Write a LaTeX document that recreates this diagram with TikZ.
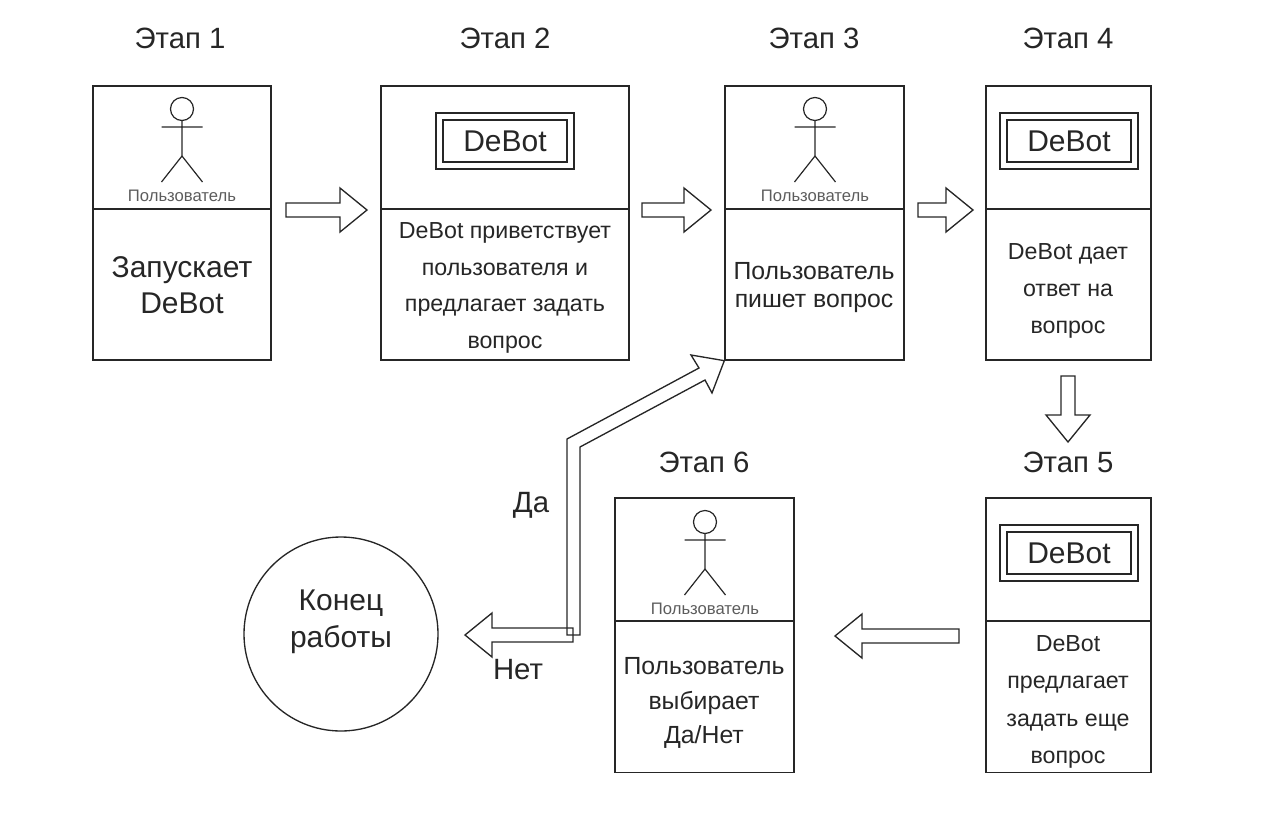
\documentclass[tikz,border=0pt]{standalone}
\usepackage{fontspec}
\setmainfont{Liberation Sans}
\usetikzlibrary{calc}
\definecolor{ink}{HTML}{262626}
\newcommand{\pxfont}[2]{\fontsize{#1}{#2}\selectfont}
\tikzset{
  cell/.style={draw=ink,line width=1pt,rectangle,inner sep=0pt,fill=none},
  heading/.style={text=ink,font=\pxfont{22pt}{24pt},inner sep=0pt},
  bigtext/.style={text=ink,font=\pxfont{22.5pt}{27pt},align=center,inner sep=0pt},
  midtext/.style={text=ink,font=\pxfont{17.4pt}{27.5pt},align=center,inner sep=0pt},
  lowtext/.style={text=ink,font=\pxfont{17.4pt}{28pt},align=center,inner sep=0pt},
  boxtext/.style={text=ink,font=\pxfont{18.6pt}{21.5pt},align=center,inner sep=0pt},
  actorpic/.pic={
    \draw[draw=ink,line width=.9pt] (0,0) circle[radius=11.5];
    \draw[draw=ink,line width=.9pt] (0,11.5) -- (0,47) (-20.5,18) -- (20.5,18) (-20.5,73) -- (0,47) -- (20.5,73);
    \node[text=ink!75,font=\pxfont{12.5pt}{14pt},inner sep=0pt] (-label) at (0,86.5) {Пользователь};
  },
  blockarrow/.style={draw=ink,line width=1pt,line join=miter,to path={
    ($(\tikztostart)!5.25pt!90:(\tikztotarget)$) --
    ($(\tikztotarget)!20.25pt!(\tikztostart)!5.25pt!90:(\tikztotarget)$) --
    ($(\tikztotarget)!20.25pt!(\tikztostart)!16.5pt!90:(\tikztotarget)$) --
    (\tikztotarget) --
    ($(\tikztotarget)!20.25pt!(\tikztostart)!16.5pt!-90:(\tikztotarget)$) --
    ($(\tikztotarget)!20.25pt!(\tikztostart)!5.25pt!-90:(\tikztotarget)$) --
    ($(\tikztostart)!5.25pt!-90:(\tikztotarget)$) -- cycle}},
  debotouter/.style={cell,line width=.9pt,minimum width=103.5pt,minimum height=42pt},
  debotinner/.style={cell,line width=.9pt,minimum width=93pt,minimum height=31.5pt,
    font=\pxfont{22.5pt}{24pt},text=ink},
}
\begin{document}
\begin{tikzpicture}[x=0.75pt,y=-0.75pt]
\useasboundingbox (0,0) rectangle (1279,822);
% headings
\node[heading] (h1) at (180,38) {Этап 1};
\node[heading] (h2) at (505,38) {Этап 2};
\node[heading] (h3) at (814,38) {Этап 3};
\node[heading] (h4) at (1068,38) {Этап 4};
\node[heading] (h5) at (1068,462) {Этап 5};
\node[heading] (h6) at (704,462) {Этап 6};
% boxes: upper and lower cells
\node[cell,minimum width=133.5pt,minimum height=92.25pt] (b1t) at (182,147.5) {};
\node[cell,minimum width=133.5pt,minimum height=113.25pt] (b1b) at (182,284.5) {};
\node[cell,minimum width=186pt,minimum height=92.25pt] (b2t) at (505,147.5) {};
\node[cell,minimum width=186pt,minimum height=113.25pt] (b2b) at (505,284.5) {};
\node[cell,minimum width=134.25pt,minimum height=92.25pt] (b3t) at (814.5,147.5) {};
\node[cell,minimum width=134.25pt,minimum height=113.25pt] (b3b) at (814.5,284.5) {};
\node[cell,minimum width=123.75pt,minimum height=92.25pt] (b4t) at (1068.5,147.5) {};
\node[cell,minimum width=123.75pt,minimum height=113.25pt] (b4b) at (1068.5,284.5) {};
\node[cell,minimum width=123.75pt,minimum height=92.25pt] (b5t) at (1068.5,559.5) {};
\node[cell,minimum width=123.75pt,minimum height=113.25pt] (b5b) at (1068.5,697) {};
\node[cell,minimum width=134.25pt,minimum height=92.25pt] (b6t) at (704.5,559.5) {};
\node[cell,minimum width=134.25pt,minimum height=113.25pt] (b6b) at (704.5,697) {};
% actors
\pic (a1) at (182,109) {actorpic};
\pic (a3) at (815,109) {actorpic};
\pic (a6) at (705,522) {actorpic};
% DeBot marks
\node[debotouter] (d2o) at (505,141) {};
\node[debotinner] (d2i) at (505,141) {DeBot};
\node[debotouter] (d4o) at (1069,141) {};
\node[debotinner] (d4i) at (1069,141) {DeBot};
\node[debotouter] (d5o) at (1069,553) {};
\node[debotinner] (d5i) at (1069,553) {DeBot};
% cell texts
\node[bigtext] (t1) at (182,285) {Запускает\\DeBot};
\node[midtext] (t2) at (505,288) {DeBot приветствует\\пользователя и\\предлагает задать\\вопрос};
\node[boxtext,font=\pxfont{18.6pt}{21pt}] (t3) at (814,288) {Пользователь\\пишет вопрос};
\node[lowtext] (t4) at (1068,291) {DeBot дает\\ответ на\\вопрос};
\node[lowtext] (t5) at (1068,702) {DeBot\\предлагает\\задать еще\\вопрос};
\node[boxtext,font=\pxfont{18.6pt}{26pt}] (t6) at (704,703) {Пользователь\\выбирает\\Да/Нет};
% end
\node[draw=ink,line width=1pt,circle,minimum size=145.5pt,inner sep=0pt] (end) at (341,634) {};
\node[text=ink,align=center,inner sep=0pt,font=\pxfont{22.5pt}{27.5pt}] (endtext) at (341,622) {Конец\\работы};
\node[text=ink,font=\pxfont{22pt}{24pt},inner sep=0pt] (yes) at (531,505) {Да};
\node[text=ink,font=\pxfont{22pt}{24pt},inner sep=0pt] (no) at (518,670) {Нет};
% connector ends
\coordinate (a12s) at (286,210); \coordinate (a12e) at (367,210);
\coordinate (a23s) at (642,210); \coordinate (a23e) at (711,210);
\coordinate (a34s) at (918,210); \coordinate (a34e) at (973,210);
\coordinate (a45s) at (1068,376); \coordinate (a45e) at (1068,442);
\coordinate (a56s) at (959,636); \coordinate (a56e) at (835,636);
\coordinate (a6es) at (573,635); \coordinate (a6ee) at (465,635);
\draw[blockarrow] (a12s) to (a12e);
\draw[blockarrow] (a23s) to (a23e);
\draw[blockarrow] (a34s) to (a34e);
\draw[blockarrow] (a45s) to (a45e);
\draw[blockarrow] (a56s) to (a56e);
\draw[blockarrow] (a6es) to (a6ee);
% bent arrow back to stage 3
\coordinate (y0) at (567,635); \coordinate (y1) at (567,439);
\coordinate (y2) at (699,368); \coordinate (y3) at (691,355);
\coordinate (y4) at (b3b.south west); \coordinate (y5) at (712,393);
\coordinate (y6) at (705,380); \coordinate (y7) at (580,447);
\coordinate (y8) at (580,635);
\draw[draw=ink,line width=1pt,line join=miter] (y0) -- (y1) -- (y2) -- (y3) -- (y4) -- (y5) -- (y6) -- (y7) -- (y8) -- cycle;
\end{tikzpicture}
\end{document}
